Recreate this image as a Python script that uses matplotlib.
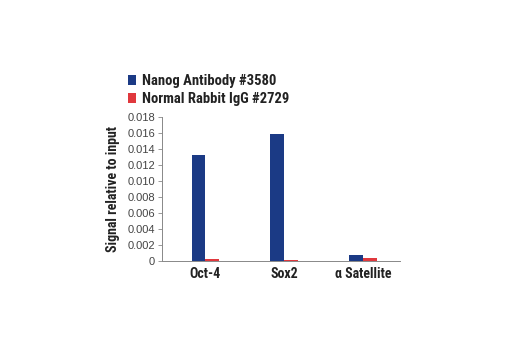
import matplotlib
matplotlib.use("Agg")
import matplotlib.pyplot as plt
import numpy as np

categories = ["Oct-4", "Sox2", "\u03b1 Satellite"]
series_names = ["Nanog Antibody #3580", "Normal Rabbit IgG #2729"]
nanog = [0.0132, 0.0159, 0.0007]
igg = [0.0002, 0.00015, 0.0004]
yticks = [0, 0.002, 0.004, 0.006, 0.008, 0.010, 0.012, 0.014, 0.016, 0.018]
ytick_labels = ["0", "0.002", "0.004", "0.006", "0.008", "0.010", "0.012", "0.014", "0.016", "0.018"]

narrow = ["Roboto Condensed", "DejaVu Sans"]
plain = ["Liberation Sans", "DejaVu Sans"]

blue = "#1b3a85"
red = "#e0383d"

fig = plt.figure(figsize=(5.2, 3.5), dpi=100)
ax = fig.add_axes([162/520, (350-261)/350, (400-162)/520, (261-117)/350])

x = np.arange(len(categories))
w = 0.175
ax.bar(x - w/2, nanog, width=w, color=blue, label=series_names[0])
ax.bar(x + w/2, igg, width=w, color=red, label=series_names[1])

ax.set_xlim(-0.55, 2.47)
ax.set_ylim(0, 0.018)
ax.set_yticks(yticks)
ax.set_yticklabels(ytick_labels, family=plain, fontsize=8, color="#444444")
ax.set_xticks(x)
ax.set_xticklabels(categories, family=narrow, fontsize=10, fontweight="bold", color="#222222")
ax.tick_params(axis="x", length=0, pad=4)
ax.tick_params(axis="y", length=3, width=0.6, color="#888888", pad=2)
for s in ["top", "right"]:
    ax.spines[s].set_visible(False)
for s in ["left", "bottom"]:
    ax.spines[s].set_color("#888888")
    ax.spines[s].set_linewidth(0.7)

ax.set_ylabel("Signal relative to input", family=narrow, fontsize=10, fontweight="bold", color="#222222", labelpad=5)

leg = ax.legend(loc="lower left", bbox_to_anchor=(128/520, (350-106)/350), bbox_transform=fig.transFigure,
                frameon=False, prop={"family": narrow, "weight": "bold", "size": 10.5},
                handlelength=0.55, handleheight=0.7, handletextpad=0.4, labelspacing=0.25, borderpad=0, borderaxespad=0)
for t in leg.get_texts():
    t.set_color("#222222")

fig.savefig("out.png", dpi=100, facecolor="white")
